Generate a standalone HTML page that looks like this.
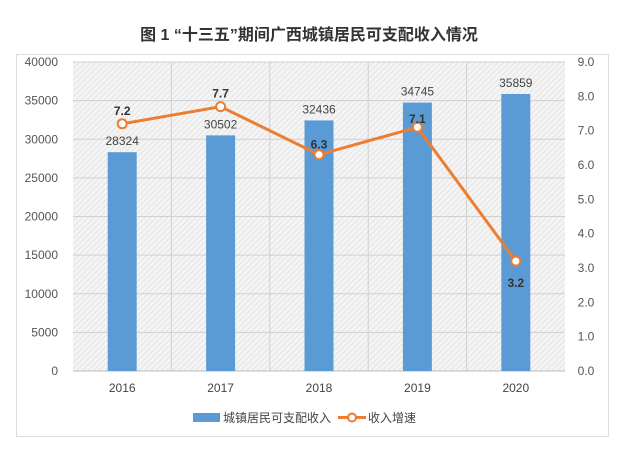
<!DOCTYPE html>
<html><head><meta charset="utf-8"><style>
body{margin:0;background:#fff;}
svg text{font-family:"Liberation Sans","Noto Sans CJK SC",sans-serif;}
</style></head><body>
<svg width="618" height="461" xmlns="http://www.w3.org/2000/svg">
<defs>
<pattern id="hatch" width="4" height="4" patternUnits="userSpaceOnUse" patternTransform="rotate(45)">
<rect width="4" height="4" fill="#f4f4f4"/><line x1="0" y1="0" x2="0" y2="4" stroke="#d6d6d6" stroke-width="1"/>
</pattern>
</defs>
<text x="309" y="40" text-anchor="middle" font-size="16" font-weight="bold" fill="#333">图 1 “十三五”期间广西城镇居民可支配收入情况</text>
<rect x="16.5" y="54.5" width="592" height="382" fill="#fff" stroke="#ddd"/>
<g id="plot"></g>
<g>
<rect x="193" y="413" width="27" height="9" fill="#5b9bd5"/>
<text x="223" y="422" font-size="12" fill="#444">城镇居民可支配收入</text>
<line x1="338" y1="417.5" x2="366" y2="417.5" stroke="#ed7d31" stroke-width="3"/>
<circle cx="352" cy="417.5" r="4" fill="#fff" stroke="#ed7d31" stroke-width="2"/>
<text x="368" y="422" font-size="12" fill="#444">收入增速</text>
</g>
</svg>
<script>
const categories=["2016","2017","2018","2019","2020"];
const incomeValues=[28324,30502,32436,34745,35859];
const growthValues=[7.2,7.7,6.3,7.1,3.2];
const leftTicks=[0,5000,10000,15000,20000,25000,30000,35000,40000];
const rightTicks=["0.0","1.0","2.0","3.0","4.0","5.0","6.0","7.0","8.0","9.0"];
const X0=73,X1=565,Y0=371,Y1=62;
const bw=(X1-X0)/categories.length;
const xc=i=>X0+bw*(i+0.5);
const yL=v=>Y0-(v/40000)*(Y0-Y1);
const yR=v=>Y0-(v/9)*(Y0-Y1);
const NS="http://www.w3.org/2000/svg";
const g=document.getElementById('plot');
function mk(t,a,txt){const e=document.createElementNS(NS,t);for(const k in a)e.setAttribute(k,a[k]);if(txt!==undefined)e.textContent=txt;g.appendChild(e);return e;}
let e=mk('rect',{x:X0,y:Y1,width:X1-X0,height:Y0-Y1,fill:'url(#hatch)'});


leftTicks.forEach(v=>{
 if(v>0){e=mk('line',{x1:X0,x2:X1,y1:yL(v),y2:yL(v),stroke:'#d0d0d0'});
 
 }
 e=mk('text',{x:X0-15,y:yL(v)+4,'text-anchor':'end','font-size':12,fill:'#555'},String(v));
 
 
});
rightTicks.forEach(s=>{
 e=mk('text',{x:586,y:yR(parseFloat(s))+4,'text-anchor':'middle','font-size':12,fill:'#555'},s);
 
 
});
for(let i=1;i<categories.length;i++){
 e=mk('line',{x1:X0+bw*i,x2:X0+bw*i,y1:Y1,y2:Y0,stroke:'#d0d0d0'});
 
 
}
e=mk('line',{x1:X0,x2:X1,y1:Y0,y2:Y0,stroke:'#bbb'});


categories.forEach((c,i)=>{
 e=mk('rect',{x:xc(i)-14.5,y:yL(incomeValues[i]),width:29,height:Y0-yL(incomeValues[i]),fill:'#5b9bd5'});
 
 
 e=mk('text',{x:xc(i),y:yL(incomeValues[i])-7,'text-anchor':'middle','font-size':12,fill:'#444'},String(incomeValues[i]));
 
 
 e=mk('text',{x:xc(i),y:392,'text-anchor':'middle','font-size':12,fill:'#444'},c);
 
 
});
e=mk('polyline',{points:growthValues.map((v,i)=>xc(i)+','+yR(v)).join(' '),fill:'none',stroke:'#ed7d31','stroke-width':3});


growthValues.forEach((v,i)=>{
 e=mk('circle',{cx:xc(i),cy:yR(v),r:4.5,fill:'#fff',stroke:'#ed7d31','stroke-width':2});
 
 
 const dy=i===2?-10:(i===3?-8:(i===4?22:-13));
 e=mk('text',{x:xc(i),y:yR(v)+dy+4,'text-anchor':'middle','font-size':12,'font-weight':'bold',fill:'#333'},v.toFixed(1));
 
 
});
</script>
</body></html>
